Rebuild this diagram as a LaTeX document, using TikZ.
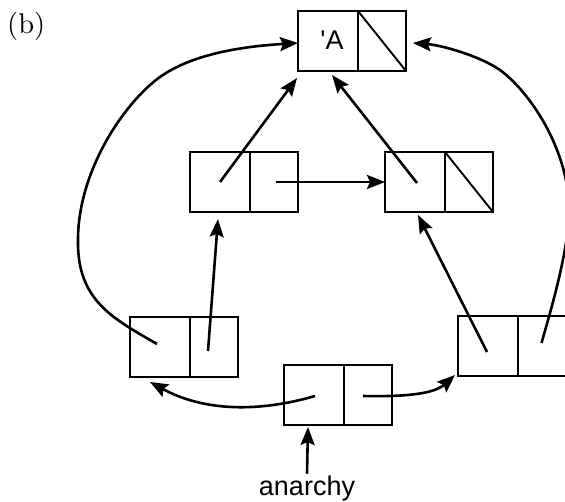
\documentclass[tikz,border=0pt]{standalone}
\usepackage{fontspec}
\newfontfamily\helv{Liberation Sans}
\newfontfamily\lmten{lmroman10-regular}[Extension=.otf]
\usetikzlibrary{arrows.meta}
\begin{document}
\begin{tikzpicture}[x=1pt,y=-1pt,
  cell/.style={draw, line width=1.4pt, minimum height=60pt, inner sep=0pt, outer sep=0pt},
  lcell/.style={cell, minimum width=60pt, anchor=north west},
  rcell/.style={cell, minimum width=48pt, anchor=north west},
  nil/.style={line width=1.9pt},
  ptr/.style={line width=2.6pt, -{Stealth[length=18pt,width=14pt,inset=3pt]}},
  lbl/.style={font=\helv\fontsize{27}{30}\selectfont, inner sep=0pt}]
\useasboundingbox (0,0) rectangle (565,502);
% (b)
\node[font=\lmten\fontsize{28.5}{30}\selectfont, anchor=base west, inner sep=0pt] (tag) at (7,33.5) {(b)};
% top box
\node[lcell] (Tl) at (298,11) {};
\node[rcell] (Tr) at (358,11) {};
\draw[nil] (Tr.north west) -- (Tr.south east);
\node[lbl, anchor=base] (Atext) at (332,50) {'A};
% middle left
\node[lcell] (MLl) at (190,152) {};
\node[rcell] (MLr) at (250,152) {};
% middle right
\node[lcell] (MRl) at (385,152) {};
\node[rcell] (MRr) at (445,152) {};
\draw[nil] (MRr.north west) -- (MRr.south east);
% bottom left
\node[lcell] (BLl) at (130,317) {};
\node[rcell] (BLr) at (190,317) {};
% bottom middle
\node[lcell] (BMl) at (284,365) {};
\node[rcell] (BMr) at (344,365) {};
% bottom right
\node[lcell] (BRl) at (458,316) {};
\node[rcell] (BRr) at (518,316) {};
% label
\node[lbl, anchor=base] (anarchy) at (307,495.5) {anarchy};
% arrows
\draw[ptr] (MLl.center) -- ([shift={(-1pt,-7pt)}]Tl.south west);
\draw[ptr] ([shift={(2pt,-1pt)}]MRl.center) -- ([shift={(4pt,-4pt)}]Tl.south);
\draw[ptr] ([xshift=2pt]MLr.center) -- (MRl.west);
\draw[ptr] ([shift={(-6pt,-4pt)}]BLr.center) -- ([shift={(-2pt,-7pt)}]MLl.south);
\draw[ptr] ([shift={(-1pt,-6pt)}]BRl.center) -- ([shift={(3pt,-3pt)}]MRl.south);
% left big curve
\draw[ptr] ([shift={(-3pt,3pt)}]BLl.center)
  .. controls (112,318) and (77,300) .. (78,240)
  .. controls (78,170) and (125,102) .. (160,77)
  .. controls (195,52) and (250,46) .. ([yshift=-2pt]Tl.west);
% right big curve
\draw[ptr] ([xshift=-0.5pt, yshift=3pt]BRr.center)
  .. controls (550,313) and (569,250) .. (569,210)
  .. controls (569,150) and (530,92) .. (500,70)
  .. controls (478,55) and (440,45) .. ([shift={(7pt,-2pt)}]Tr.east);
% bottom middle arrows
\draw[ptr] ([shift={(1pt,-1pt)}]BMl.center)
  .. controls (260,412) and (205,412) .. ([shift={(20pt,-5pt)}]BLl.south west);
\draw[ptr] ([shift={(-5pt,-1pt)}]BMr.center)
  .. controls (410,397) and (435,393) .. ([shift={(-3pt,1pt)}]BRl.south west);
\draw[ptr] ([yshift=2pt]anarchy.north) -- ([shift={(-6pt,-2pt)}]BMl.south);
\end{tikzpicture}
\end{document}
